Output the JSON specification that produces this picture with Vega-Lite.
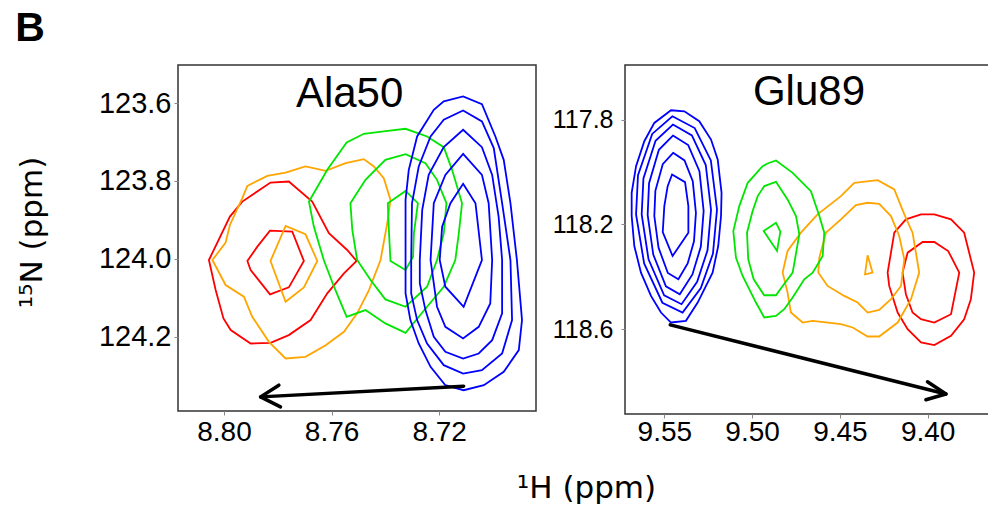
{
"$schema": "https://vega.github.io/schema/vega-lite/v6.json",
"background": "white",
"padding": {"left": 15, "top": 8, "right": 0, "bottom": 0},
"title": {"text": "B", "anchor": "start", "font": "Liberation Sans", "fontSize": 41, "fontWeight": "bold", "color": "black", "offset": 14},
"config": {
  "view": {"stroke": "#333", "strokeWidth": 1.5},
  "axis": {"domain": false, "grid": false, "tickColor": "#888", "tickSize": 4, "labelFont": "Liberation Sans", "labelFontSize": 28, "labelColor": "black", "labelFlush": false, "labelOverlap": false, "titleFont": "DejaVu Sans", "titleFontSize": 31, "titleFontWeight": "normal", "titleColor": "black"}
},
"spacing": 89,
"bounds": "flush",
"hconcat": [
{
  "width": 358, "height": 346,
  "encoding": {
    "x": {"field": "x", "type": "quantitative", "scale": {"domain": [8.684, 8.8171], "reverse": true, "nice": false, "zero": false},
          "axis": {"values": [8.80, 8.76, 8.72], "format": ".2f", "labelPadding": 3, "title": "¹H (ppm)", "titleX": 408, "titleY": 86, "titleBaseline": "alphabetic", "titleAlign": "center"}},
    "y": {"field": "y", "type": "quantitative", "scale": {"domain": [123.5022, 124.3913], "reverse": true, "nice": false, "zero": false},
          "axis": {"values": [123.6, 123.8, 124.0, 124.2], "format": ".1f", "labelPadding": 3, "labelFontSize": 29, "title": "¹⁵N (ppm)", "titleX": -146, "titleY": 167, "titleBaseline": "middle", "titleAlign": "center", "titleAngle": -90}}
  },
  "layer": [
    {
      "data": {"values": [
{"k":"r1","c":"red","x":8.8056,"y":124.0033},{"k":"r1","c":"red","x":8.7978,"y":123.8917},{"k":"r1","c":"red","x":8.7932,"y":123.8531},{"k":"r1","c":"red","x":8.7827,"y":123.8042},{"k":"r1","c":"red","x":8.7759,"y":123.8016},{"k":"r1","c":"red","x":8.7672,"y":123.8531},{"k":"r1","c":"red","x":8.7610,"y":123.9346},{"k":"r1","c":"red","x":8.7542,"y":123.9775},{"k":"r1","c":"red","x":8.7507,"y":124.0058},{"k":"r1","c":"red","x":8.7554,"y":124.0376},{"k":"r1","c":"red","x":8.7616,"y":124.0891},{"k":"r1","c":"red","x":8.7678,"y":124.1577},{"k":"r1","c":"red","x":8.7759,"y":124.1963},{"k":"r1","c":"red","x":8.7827,"y":124.2160},{"k":"r1","c":"red","x":8.7901,"y":124.2178},{"k":"r1","c":"red","x":8.7975,"y":124.1834},{"k":"r1","c":"red","x":8.8002,"y":124.1534},{"k":"r1","c":"red","x":8.8031,"y":124.0805},
{"k":"r2","c":"red","x":8.7913,"y":124.0058},{"k":"r2","c":"red","x":8.7901,"y":124.0290},{"k":"r2","c":"red","x":8.7829,"y":124.0916},{"k":"r2","c":"red","x":8.7759,"y":124.0736},{"k":"r2","c":"red","x":8.7703,"y":124.0058},{"k":"r2","c":"red","x":8.7746,"y":123.9303},{"k":"r2","c":"red","x":8.7829,"y":123.9278},{"k":"r2","c":"red","x":8.7876,"y":123.9689},
{"k":"o1","c":"orange","x":8.8043,"y":124.0033},{"k":"o1","c":"orange","x":8.7994,"y":123.9586},{"k":"o1","c":"orange","x":8.7978,"y":123.9132},{"k":"o1","c":"orange","x":8.7932,"y":123.8445},{"k":"o1","c":"orange","x":8.7913,"y":123.8128},{"k":"o1","c":"orange","x":8.7839,"y":123.7870},{"k":"o1","c":"orange","x":8.7771,"y":123.7785},{"k":"o1","c":"orange","x":8.7697,"y":123.7630},{"k":"o1","c":"orange","x":8.7622,"y":123.7742},{"k":"o1","c":"orange","x":8.7548,"y":123.7544},{"k":"o1","c":"orange","x":8.7480,"y":123.7441},{"k":"o1","c":"orange","x":8.7443,"y":123.7630},{"k":"o1","c":"orange","x":8.7406,"y":123.7931},{"k":"o1","c":"orange","x":8.7381,"y":123.8488},{"k":"o1","c":"orange","x":8.7393,"y":123.9089},{"k":"o1","c":"orange","x":8.7418,"y":124.0033},{"k":"o1","c":"orange","x":8.7461,"y":124.0805},{"k":"o1","c":"orange","x":8.7505,"y":124.1405},{"k":"o1","c":"orange","x":8.7554,"y":124.1877},{"k":"o1","c":"orange","x":8.7622,"y":124.2221},{"k":"o1","c":"orange","x":8.7697,"y":124.2521},{"k":"o1","c":"orange","x":8.7771,"y":124.2564},{"k":"o1","c":"orange","x":8.7833,"y":124.2135},{"k":"o1","c":"orange","x":8.7895,"y":124.1491},{"k":"o1","c":"orange","x":8.7926,"y":124.0976},{"k":"o1","c":"orange","x":8.7994,"y":124.0676},
{"k":"o2","c":"orange","x":8.7827,"y":124.0058},{"k":"o2","c":"orange","x":8.7771,"y":123.9157},{"k":"o2","c":"orange","x":8.7697,"y":123.9372},{"k":"o2","c":"orange","x":8.7653,"y":124.0058},{"k":"o2","c":"orange","x":8.7703,"y":124.0736},{"k":"o2","c":"orange","x":8.7771,"y":124.1105},
{"k":"g1","c":"green","x":8.7684,"y":123.8531},{"k":"g1","c":"green","x":8.7616,"y":123.7716},{"k":"g1","c":"green","x":8.7544,"y":123.7012},{"k":"g1","c":"green","x":8.7480,"y":123.6789},{"k":"g1","c":"green","x":8.7406,"y":123.6729},{"k":"g1","c":"green","x":8.7325,"y":123.6661},{"k":"g1","c":"green","x":8.7245,"y":123.6858},{"k":"g1","c":"green","x":8.7183,"y":123.7133},{"k":"g1","c":"green","x":8.7152,"y":123.7716},{"k":"g1","c":"green","x":8.7115,"y":123.8574},{"k":"g1","c":"green","x":8.7127,"y":123.9346},{"k":"g1","c":"green","x":8.7140,"y":124.0033},{"k":"g1","c":"green","x":8.7183,"y":124.0719},{"k":"g1","c":"green","x":8.7245,"y":124.1234},{"k":"g1","c":"green","x":8.7325,"y":124.1903},{"k":"g1","c":"green","x":8.7400,"y":124.1663},{"k":"g1","c":"green","x":8.7474,"y":124.1320},{"k":"g1","c":"green","x":8.7544,"y":124.1491},{"k":"g1","c":"green","x":8.7591,"y":124.0719},{"k":"g1","c":"green","x":8.7629,"y":124.0033},{"k":"g1","c":"green","x":8.7666,"y":123.9175},
{"k":"g2","c":"green","x":8.7530,"y":123.8574},{"k":"g2","c":"green","x":8.7474,"y":123.7973},{"k":"g2","c":"green","x":8.7400,"y":123.7459},{"k":"g2","c":"green","x":8.7325,"y":123.7313},{"k":"g2","c":"green","x":8.7251,"y":123.7544},{"k":"g2","c":"green","x":8.7208,"y":123.7973},{"k":"g2","c":"green","x":8.7173,"y":123.8574},{"k":"g2","c":"green","x":8.7183,"y":123.9346},{"k":"g2","c":"green","x":8.7208,"y":124.0033},{"k":"g2","c":"green","x":8.7245,"y":124.0719},{"k":"g2","c":"green","x":8.7325,"y":124.1234},{"k":"g2","c":"green","x":8.7400,"y":124.1045},{"k":"g2","c":"green","x":8.7455,"y":124.0547},{"k":"g2","c":"green","x":8.7505,"y":124.0033},{"k":"g2","c":"green","x":8.7523,"y":123.9260},
{"k":"g3","c":"green","x":8.7391,"y":123.8574},{"k":"g3","c":"green","x":8.7325,"y":123.8257},{"k":"g3","c":"green","x":8.7279,"y":123.8574},{"k":"g3","c":"green","x":8.7294,"y":123.9346},{"k":"g3","c":"green","x":8.7297,"y":123.9947},{"k":"g3","c":"green","x":8.7325,"y":124.0290},{"k":"g3","c":"green","x":8.7381,"y":124.0058},{"k":"g3","c":"green","x":8.7387,"y":123.9260},
{"k":"b1","c":"blue","x":8.7183,"y":123.5957},{"k":"b1","c":"blue","x":8.7111,"y":123.5828},{"k":"b1","c":"blue","x":8.7041,"y":123.6026},{"k":"b1","c":"blue","x":8.6991,"y":123.6858},{"k":"b1","c":"blue","x":8.6960,"y":123.7459},{"k":"b1","c":"blue","x":8.6935,"y":123.8574},{"k":"b1","c":"blue","x":8.6911,"y":124.0033},{"k":"b1","c":"blue","x":8.6892,"y":124.1577},{"k":"b1","c":"blue","x":8.6904,"y":124.2349},{"k":"b1","c":"blue","x":8.6960,"y":124.2907},{"k":"b1","c":"blue","x":8.7034,"y":124.3250},{"k":"b1","c":"blue","x":8.7109,"y":124.3379},{"k":"b1","c":"blue","x":8.7177,"y":124.3250},{"k":"b1","c":"blue","x":8.7232,"y":124.2778},{"k":"b1","c":"blue","x":8.7276,"y":124.2178},{"k":"b1","c":"blue","x":8.7307,"y":124.1577},{"k":"b1","c":"blue","x":8.7325,"y":124.0891},{"k":"b1","c":"blue","x":8.7325,"y":124.0033},{"k":"b1","c":"blue","x":8.7325,"y":123.8488},{"k":"b1","c":"blue","x":8.7313,"y":123.7716},{"k":"b1","c":"blue","x":8.7282,"y":123.6858},{"k":"b1","c":"blue","x":8.7220,"y":123.6172},
{"k":"b2","c":"blue","x":8.7111,"y":123.6189},{"k":"b2","c":"blue","x":8.7041,"y":123.6472},{"k":"b2","c":"blue","x":8.6997,"y":123.7158},{"k":"b2","c":"blue","x":8.6966,"y":123.8574},{"k":"b2","c":"blue","x":8.6935,"y":124.0033},{"k":"b2","c":"blue","x":8.6929,"y":124.1577},{"k":"b2","c":"blue","x":8.6966,"y":124.2435},{"k":"b2","c":"blue","x":8.7041,"y":124.2864},{"k":"b2","c":"blue","x":8.7111,"y":124.2950},{"k":"b2","c":"blue","x":8.7183,"y":124.2735},{"k":"b2","c":"blue","x":8.7245,"y":124.2178},{"k":"b2","c":"blue","x":8.7282,"y":124.1577},{"k":"b2","c":"blue","x":8.7304,"y":124.0891},{"k":"b2","c":"blue","x":8.7304,"y":124.0033},{"k":"b2","c":"blue","x":8.7301,"y":123.8574},{"k":"b2","c":"blue","x":8.7276,"y":123.7630},{"k":"b2","c":"blue","x":8.7232,"y":123.6858},{"k":"b2","c":"blue","x":8.7183,"y":123.6429},
{"k":"b3","c":"blue","x":8.7111,"y":123.6686},{"k":"b3","c":"blue","x":8.7041,"y":123.7133},{"k":"b3","c":"blue","x":8.7003,"y":123.7845},{"k":"b3","c":"blue","x":8.6979,"y":123.8917},{"k":"b3","c":"blue","x":8.6966,"y":124.0033},{"k":"b3","c":"blue","x":8.6966,"y":124.1405},{"k":"b3","c":"blue","x":8.7003,"y":124.2092},{"k":"b3","c":"blue","x":8.7053,"y":124.2435},{"k":"b3","c":"blue","x":8.7111,"y":124.2564},{"k":"b3","c":"blue","x":8.7177,"y":124.2392},{"k":"b3","c":"blue","x":8.7220,"y":124.2006},{"k":"b3","c":"blue","x":8.7251,"y":124.1320},{"k":"b3","c":"blue","x":8.7272,"y":124.0633},{"k":"b3","c":"blue","x":8.7272,"y":124.0033},{"k":"b3","c":"blue","x":8.7263,"y":123.8746},{"k":"b3","c":"blue","x":8.7239,"y":123.7845},{"k":"b3","c":"blue","x":8.7183,"y":123.7133},
{"k":"b4","c":"blue","x":8.7111,"y":123.7304},{"k":"b4","c":"blue","x":8.7041,"y":123.7845},{"k":"b4","c":"blue","x":8.7016,"y":123.8574},{"k":"b4","c":"blue","x":8.7003,"y":124.0033},{"k":"b4","c":"blue","x":8.7010,"y":124.1148},{"k":"b4","c":"blue","x":8.7053,"y":124.1749},{"k":"b4","c":"blue","x":8.7111,"y":124.2049},{"k":"b4","c":"blue","x":8.7177,"y":124.1749},{"k":"b4","c":"blue","x":8.7208,"y":124.1234},{"k":"b4","c":"blue","x":8.7232,"y":124.0033},{"k":"b4","c":"blue","x":8.7220,"y":123.8574},{"k":"b4","c":"blue","x":8.7177,"y":123.7845},
{"k":"b5","c":"blue","x":8.7111,"y":123.8076},{"k":"b5","c":"blue","x":8.7065,"y":123.8574},{"k":"b5","c":"blue","x":8.7041,"y":124.0033},{"k":"b5","c":"blue","x":8.7109,"y":124.1234},{"k":"b5","c":"blue","x":8.7177,"y":124.0719},{"k":"b5","c":"blue","x":8.7198,"y":124.0033},{"k":"b5","c":"blue","x":8.7189,"y":123.9175},{"k":"b5","c":"blue","x":8.7158,"y":123.8574}
      ]},
      "mark": {"type": "line", "interpolate": "linear-closed", "strokeWidth": 1.8, "clip": true},
      "encoding": {
        "detail": {"field": "k", "type": "nominal"},
        "color": {"field": "c", "type": "nominal", "scale": {"domain": ["blue", "green", "orange", "red"], "range": ["#0000ff", "#00e600", "#ffa500", "#ff0000"]}, "legend": null},
        "order": {"value": null}
      }
    },
    {
      "data": {"values": [
        {"k": "shaft", "x": 8.7109, "y": 124.3276}, {"k": "shaft", "x": 8.7864, "y": 124.3550},
        {"k": "head", "x": 8.7796, "y": 124.3250}, {"k": "head", "x": 8.7864, "y": 124.3550}, {"k": "head", "x": 8.7790, "y": 124.3808}
      ]},
      "mark": {"type": "line", "color": "black", "strokeWidth": 3.5, "strokeCap": "round", "strokeJoin": "round"},
      "encoding": {"detail": {"field": "k", "type": "nominal"}, "order": {"value": null}}
    },
    {
      "data": {"values": [{"t": "Ala50", "x": 8.7533, "y": 123.6095}]},
      "mark": {"type": "text", "font": "Liberation Sans", "fontSize": 42, "baseline": "alphabetic", "align": "center", "color": "black"},
      "encoding": {"text": {"field": "t"}}
    }
  ]
},
{
  "width": 372, "height": 349,
  "encoding": {
    "x": {"field": "x", "type": "quantitative", "scale": {"domain": [9.3605, 9.5724], "reverse": true, "nice": false, "zero": false},
          "axis": {"values": [9.55, 9.50, 9.45, 9.40], "format": ".2f", "labelPadding": 0, "title": null}},
    "y": {"field": "y", "type": "quantitative", "scale": {"domain": [117.5916, 118.9238], "reverse": true, "nice": false, "zero": false},
          "axis": {"values": [117.8, 118.2, 118.6], "format": ".1f", "labelPadding": 8, "labelFontSize": 25, "title": null}}
  },
  "layer": [
    {
      "data": {"values": [
{"k":"r1","c":"red","x":9.4228,"y":118.3841},{"k":"r1","c":"red","x":9.4190,"y":118.2317},{"k":"r1","c":"red","x":9.4124,"y":118.1809},{"k":"r1","c":"red","x":9.4038,"y":118.1619},{"k":"r1","c":"red","x":9.3962,"y":118.1619},{"k":"r1","c":"red","x":9.3867,"y":118.1809},{"k":"r1","c":"red","x":9.3792,"y":118.2317},{"k":"r1","c":"red","x":9.3735,"y":118.3841},{"k":"r1","c":"red","x":9.3754,"y":118.4857},{"k":"r1","c":"red","x":9.3792,"y":118.5619},{"k":"r1","c":"red","x":9.3867,"y":118.6254},{"k":"r1","c":"red","x":9.3962,"y":118.6609},{"k":"r1","c":"red","x":9.4038,"y":118.6508},{"k":"r1","c":"red","x":9.4114,"y":118.6000},{"k":"r1","c":"red","x":9.4171,"y":118.5365},{"k":"r1","c":"red","x":9.4219,"y":118.4349},
{"k":"r2","c":"red","x":9.4143,"y":118.3841},{"k":"r2","c":"red","x":9.4114,"y":118.3079},{"k":"r2","c":"red","x":9.4029,"y":118.2673},{"k":"r2","c":"red","x":9.3962,"y":118.2673},{"k":"r2","c":"red","x":9.3883,"y":118.3016},{"k":"r2","c":"red","x":9.3820,"y":118.3841},{"k":"r2","c":"red","x":9.3867,"y":118.5428},{"k":"r2","c":"red","x":9.3962,"y":118.5746},{"k":"r2","c":"red","x":9.4038,"y":118.5619},{"k":"r2","c":"red","x":9.4086,"y":118.5365},{"k":"r2","c":"red","x":9.4124,"y":118.4666},
{"k":"o1","c":"orange","x":9.4418,"y":118.0413},{"k":"o1","c":"orange","x":9.4285,"y":118.0311},{"k":"o1","c":"orange","x":9.4190,"y":118.0667},{"k":"o1","c":"orange","x":9.4133,"y":118.1619},{"k":"o1","c":"orange","x":9.4086,"y":118.2317},{"k":"o1","c":"orange","x":9.4048,"y":118.3841},{"k":"o1","c":"orange","x":9.4095,"y":118.4857},{"k":"o1","c":"orange","x":9.4171,"y":118.5746},{"k":"o1","c":"orange","x":9.4276,"y":118.6279},{"k":"o1","c":"orange","x":9.4342,"y":118.6279},{"k":"o1","c":"orange","x":9.4427,"y":118.5936},{"k":"o1","c":"orange","x":9.4494,"y":118.5809},{"k":"o1","c":"orange","x":9.4655,"y":118.5682},{"k":"o1","c":"orange","x":9.4712,"y":118.5746},{"k":"o1","c":"orange","x":9.4779,"y":118.5365},{"k":"o1","c":"orange","x":9.4798,"y":118.4603},{"k":"o1","c":"orange","x":9.4826,"y":118.3841},{"k":"o1","c":"orange","x":9.4798,"y":118.3016},{"k":"o1","c":"orange","x":9.4722,"y":118.2317},{"k":"o1","c":"orange","x":9.4627,"y":118.1619},{"k":"o1","c":"orange","x":9.4494,"y":118.0921},
{"k":"o2","c":"orange","x":9.4579,"y":118.2317},{"k":"o2","c":"orange","x":9.4494,"y":118.1809},{"k":"o2","c":"orange","x":9.4409,"y":118.1263},{"k":"o2","c":"orange","x":9.4342,"y":118.1175},{"k":"o2","c":"orange","x":9.4276,"y":118.1213},{"k":"o2","c":"orange","x":9.4209,"y":118.1682},{"k":"o2","c":"orange","x":9.4162,"y":118.2444},{"k":"o2","c":"orange","x":9.4133,"y":118.3333},{"k":"o2","c":"orange","x":9.4152,"y":118.4349},{"k":"o2","c":"orange","x":9.4209,"y":118.4857},{"k":"o2","c":"orange","x":9.4276,"y":118.5263},{"k":"o2","c":"orange","x":9.4342,"y":118.5365},{"k":"o2","c":"orange","x":9.4399,"y":118.4984},{"k":"o2","c":"orange","x":9.4475,"y":118.4730},{"k":"o2","c":"orange","x":9.4570,"y":118.4349},{"k":"o2","c":"orange","x":9.4623,"y":118.3841},{"k":"o2","c":"orange","x":9.4617,"y":118.3270},
{"k":"o3","c":"orange","x":9.4342,"y":118.3181},{"k":"o3","c":"orange","x":9.4314,"y":118.3841},{"k":"o3","c":"orange","x":9.4357,"y":118.3905},
{"k":"g1","c":"green","x":9.4912,"y":117.9676},{"k":"g1","c":"green","x":9.4864,"y":117.9562},{"k":"g1","c":"green","x":9.4769,"y":118.0032},{"k":"g1","c":"green","x":9.4665,"y":118.0730},{"k":"g1","c":"green","x":9.4617,"y":118.1682},{"k":"g1","c":"green","x":9.4589,"y":118.2317},{"k":"g1","c":"green","x":9.4598,"y":118.3206},{"k":"g1","c":"green","x":9.4655,"y":118.3841},{"k":"g1","c":"green","x":9.4703,"y":118.4095},{"k":"g1","c":"green","x":9.4769,"y":118.4793},{"k":"g1","c":"green","x":9.4817,"y":118.5238},{"k":"g1","c":"green","x":9.4864,"y":118.5492},{"k":"g1","c":"green","x":9.4931,"y":118.5555},{"k":"g1","c":"green","x":9.4978,"y":118.4984},{"k":"g1","c":"green","x":9.5054,"y":118.3968},{"k":"g1","c":"green","x":9.5092,"y":118.3270},{"k":"g1","c":"green","x":9.5107,"y":118.2254},{"k":"g1","c":"green","x":9.5073,"y":118.1301},{"k":"g1","c":"green","x":9.5025,"y":118.0413},{"k":"g1","c":"green","x":9.4940,"y":117.9778},
{"k":"g2","c":"green","x":9.4931,"y":118.0540},{"k":"g2","c":"green","x":9.4864,"y":118.0375},{"k":"g2","c":"green","x":9.4798,"y":118.1048},{"k":"g2","c":"green","x":9.4750,"y":118.1682},{"k":"g2","c":"green","x":9.4731,"y":118.2381},{"k":"g2","c":"green","x":9.4769,"y":118.3841},{"k":"g2","c":"green","x":9.4826,"y":118.4349},{"k":"g2","c":"green","x":9.4864,"y":118.4705},{"k":"g2","c":"green","x":9.4931,"y":118.4705},{"k":"g2","c":"green","x":9.4991,"y":118.4095},{"k":"g2","c":"green","x":9.5022,"y":118.3333},{"k":"g2","c":"green","x":9.5029,"y":118.2317},{"k":"g2","c":"green","x":9.4997,"y":118.1492},{"k":"g2","c":"green","x":9.4968,"y":118.0921},
{"k":"g3","c":"green","x":9.4934,"y":118.2254},{"k":"g3","c":"green","x":9.4864,"y":118.1936},{"k":"g3","c":"green","x":9.4839,"y":118.2279},{"k":"g3","c":"green","x":9.4858,"y":118.3016},
{"k":"b1","c":"blue","x":9.5462,"y":117.7644},{"k":"b1","c":"blue","x":9.5386,"y":117.7683},{"k":"b1","c":"blue","x":9.5301,"y":117.8063},{"k":"b1","c":"blue","x":9.5234,"y":117.8762},{"k":"b1","c":"blue","x":9.5196,"y":117.9524},{"k":"b1","c":"blue","x":9.5174,"y":118.0794},{"k":"b1","c":"blue","x":9.5177,"y":118.1682},{"k":"b1","c":"blue","x":9.5193,"y":118.2825},{"k":"b1","c":"blue","x":9.5225,"y":118.3841},{"k":"b1","c":"blue","x":9.5310,"y":118.4984},{"k":"b1","c":"blue","x":9.5377,"y":118.5682},{"k":"b1","c":"blue","x":9.5462,"y":118.5746},{"k":"b1","c":"blue","x":9.5519,"y":118.5365},{"k":"b1","c":"blue","x":9.5576,"y":118.4730},{"k":"b1","c":"blue","x":9.5633,"y":118.3841},{"k":"b1","c":"blue","x":9.5671,"y":118.2825},{"k":"b1","c":"blue","x":9.5686,"y":118.1682},{"k":"b1","c":"blue","x":9.5686,"y":118.0794},{"k":"b1","c":"blue","x":9.5661,"y":117.9778},{"k":"b1","c":"blue","x":9.5614,"y":117.8825},{"k":"b1","c":"blue","x":9.5557,"y":117.8127},
{"k":"b2","c":"blue","x":9.5454,"y":117.7873},{"k":"b2","c":"blue","x":9.5327,"y":117.8323},{"k":"b2","c":"blue","x":9.5235,"y":117.9558},{"k":"b2","c":"blue","x":9.5200,"y":118.1432},{"k":"b2","c":"blue","x":9.5223,"y":118.3117},{"k":"b2","c":"blue","x":9.5292,"y":118.4429},{"k":"b2","c":"blue","x":9.5396,"y":118.5365},{"k":"b2","c":"blue","x":9.5511,"y":118.4990},{"k":"b2","c":"blue","x":9.5615,"y":118.3492},{"k":"b2","c":"blue","x":9.5661,"y":118.1619},{"k":"b2","c":"blue","x":9.5650,"y":118.0121},{"k":"b2","c":"blue","x":9.5569,"y":117.8547},
{"k":"b3","c":"blue","x":9.5451,"y":117.8190},{"k":"b3","c":"blue","x":9.5343,"y":117.8602},{"k":"b3","c":"blue","x":9.5264,"y":117.9733},{"k":"b3","c":"blue","x":9.5234,"y":118.1448},{"k":"b3","c":"blue","x":9.5254,"y":118.2990},{"k":"b3","c":"blue","x":9.5313,"y":118.4190},{"k":"b3","c":"blue","x":9.5402,"y":118.5047},{"k":"b3","c":"blue","x":9.5501,"y":118.4705},{"k":"b3","c":"blue","x":9.5590,"y":118.3333},{"k":"b3","c":"blue","x":9.5629,"y":118.1619},{"k":"b3","c":"blue","x":9.5619,"y":118.0248},{"k":"b3","c":"blue","x":9.5550,"y":117.8808},
{"k":"b4","c":"blue","x":9.5451,"y":117.8610},{"k":"b4","c":"blue","x":9.5364,"y":117.8973},{"k":"b4","c":"blue","x":9.5300,"y":117.9972},{"k":"b4","c":"blue","x":9.5276,"y":118.1487},{"k":"b4","c":"blue","x":9.5292,"y":118.2849},{"k":"b4","c":"blue","x":9.5340,"y":118.3910},{"k":"b4","c":"blue","x":9.5412,"y":118.4666},{"k":"b4","c":"blue","x":9.5491,"y":118.4364},{"k":"b4","c":"blue","x":9.5563,"y":118.3153},{"k":"b4","c":"blue","x":9.5595,"y":118.1638},{"k":"b4","c":"blue","x":9.5587,"y":118.0427},{"k":"b4","c":"blue","x":9.5531,"y":117.9154},
{"k":"b5","c":"blue","x":9.5450,"y":117.9270},{"k":"b5","c":"blue","x":9.5385,"y":117.9559},{"k":"b5","c":"blue","x":9.5338,"y":118.0355},{"k":"b5","c":"blue","x":9.5320,"y":118.1562},{"k":"b5","c":"blue","x":9.5331,"y":118.2647},{"k":"b5","c":"blue","x":9.5367,"y":118.3492},{"k":"b5","c":"blue","x":9.5420,"y":118.4095},{"k":"b5","c":"blue","x":9.5480,"y":118.3854},{"k":"b5","c":"blue","x":9.5533,"y":118.2889},{"k":"b5","c":"blue","x":9.5557,"y":118.1682},{"k":"b5","c":"blue","x":9.5551,"y":118.0717},{"k":"b5","c":"blue","x":9.5509,"y":117.9704},
{"k":"b6","c":"blue","x":9.5456,"y":118.0095},{"k":"b6","c":"blue","x":9.5382,"y":118.0387},{"k":"b6","c":"blue","x":9.5363,"y":118.1301},{"k":"b6","c":"blue","x":9.5363,"y":118.2317},{"k":"b6","c":"blue","x":9.5453,"y":118.3206},{"k":"b6","c":"blue","x":9.5509,"y":118.2292},{"k":"b6","c":"blue","x":9.5500,"y":118.1301},{"k":"b6","c":"blue","x":9.5481,"y":118.0540}
      ]},
      "mark": {"type": "line", "interpolate": "linear-closed", "strokeWidth": 1.8, "clip": true},
      "encoding": {
        "detail": {"field": "k", "type": "nominal"},
        "color": {"field": "c", "type": "nominal", "scale": {"domain": ["blue", "green", "orange", "red"], "range": ["#0000ff", "#00e600", "#ffa500", "#ff0000"]}, "legend": null},
        "order": {"value": null}
      }
    },
    {
      "data": {"values": [
        {"k": "shaft", "x": 9.5466, "y": 118.5835}, {"k": "shaft", "x": 9.3896, "y": 118.8476},
        {"k": "head", "x": 9.4001, "y": 118.8006}, {"k": "head", "x": 9.3896, "y": 118.8476}, {"k": "head", "x": 9.4010, "y": 118.8692}
      ]},
      "mark": {"type": "line", "color": "black", "strokeWidth": 3.5, "strokeCap": "round", "strokeJoin": "round"},
      "encoding": {"detail": {"field": "k", "type": "nominal"}, "order": {"value": null}}
    },
    {
      "data": {"values": [{"t": "Glu89", "x": 9.4676, "y": 117.7455}]},
      "mark": {"type": "text", "font": "Liberation Sans", "fontSize": 42, "baseline": "alphabetic", "align": "center", "color": "black"},
      "encoding": {"text": {"field": "t"}}
    }
  ]
}
]
}
